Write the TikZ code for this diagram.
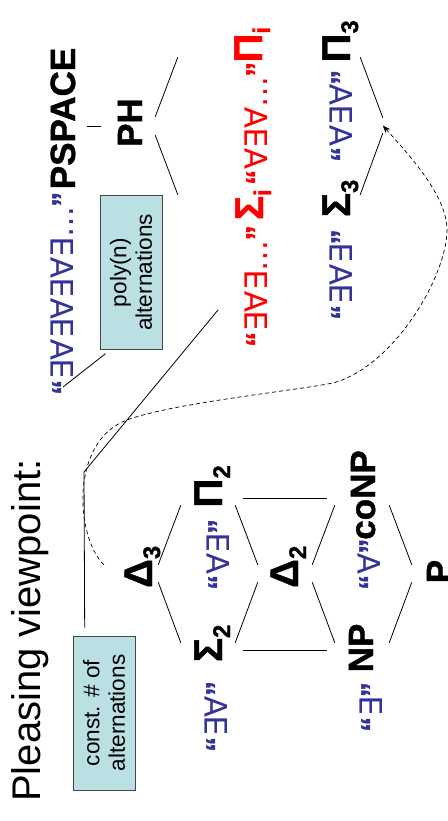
\documentclass[tikz,border=0pt]{standalone}
\usepackage{fontspec}
\setmainfont{Liberation Sans}
\newfontfamily\symfont{DejaVu Sans}
\newfontfamily\heavyfont{Liberation Sans}[BoldFeatures={FakeBold=1.2}]
\usetikzlibrary{arrows.meta}

\definecolor{qblue}{RGB}{51,51,153}
\definecolor{qred}{RGB}{255,0,0}
\definecolor{notefill}{RGB}{187,224,227}
\definecolor{noteline}{RGB}{70,70,70}

% label placed inside a fixed-size slot: #1 horizontal offset, #2 raise, #3 text
\newcommand\lbl[3]{\smash{\makebox[0pt]{\kern#1\kern#1\raisebox{#2}{#3}}}}
% subscript that takes no horizontal room
\newcommand\sub[1]{\rlap{\raisebox{-8pt}{\fontsize{24}{26}\selectfont #1}}}
% larger Greek class letter
\newcommand\gk[1]{{\fontsize{40}{44}\selectfont #1}}
% bold quotation marks
\newcommand\oq{{\heavyfont\bfseries\fontsize{30}{34}\selectfont “}}
\newcommand\cq{{\heavyfont\bfseries\fontsize{30}{34}\selectfont ”}}

\begin{document}
\begin{tikzpicture}[x=1pt, y=1pt, rotate=90, transform shape,
  slot/.style={rectangle, inner sep=0pt, minimum height=54pt, minimum width=#1},
  slot/.default=14pt,
  cls/.style={font=\heavyfont\fontsize{35}{40}\selectfont\bfseries},
  pre/.style={anchor=base west, inner sep=0pt, text=qblue,
              font=\symfont\fontsize{31}{36}\selectfont},
  conn/.style={draw=black, line width=0.8pt},
  notebox/.style={draw=noteline, fill=notefill, line width=0.9pt,
                  minimum width=154pt, minimum height=62pt, inner sep=2pt,
                  align=center, font=\fontsize{22.6}{25.5}\selectfont}]
\useasboundingbox (0,0) rectangle (821,-447);

% title
\node[anchor=base west, inner sep=0pt, font=\fontsize{40}{48}\selectfont]
  (title) at (19,-40) {Pleasing viewpoint:};

% lower lattice
\node[slot=17pt, cls] (D3) at (247.5,-131) {\lbl{0pt}{-21pt}{\gk{Δ}\sub{3}}};
\node[slot, cls] (S2) at (171,-208) {\lbl{0pt}{-14pt}{\gk{Σ}\sub{2}}};
\node[slot, cls] (P2) at (323,-208) {\lbl{5pt}{-14pt}{\gk{Π}\sub{2}}};
\node[slot=17pt, cls] (D2) at (247.5,-285) {\lbl{0pt}{-13pt}{\gk{Δ}\sub{2}}};
\node[slot, cls] (NP) at (171,-362) {\lbl{2pt}{-11pt}{NP}};
\node[slot, cls] (coNP) at (323,-362) {\lbl{3pt}{-13pt}{coNP}};
\node[slot=17pt, cls] (P) at (247.5,-439) {\lbl{2pt}{-12pt}{P}};

% upper part
\node[slot=18pt, cls] (PSPACE) at (695,-60) {\lbl{7.5pt}{-15pt}{PSPACE}};
\node[slot=18pt, cls] (PH) at (695,-128) {\lbl{3.5pt}{-14pt}{PH}};
\node[slot, cls, text=qred] (Si) at (619,-205) {\lbl{-6pt}{-58pt}{\gk{Σ}\sub{i}}};
\node[slot, cls, text=qred] (Pi) at (771,-205) {\lbl{2pt}{-57pt}{\gk{Π}\sub{i}}};
\node[slot, cls] (S3) at (619,-333) {\lbl{-3pt}{-17pt}{\gk{Σ}\sub{3}}};
\node[slot, cls] (P3) at (771,-333) {\lbl{2pt}{-17pt}{\gk{Π}\sub{3}}};
\node[slot=15pt] (D3new) at (695.5,-410) {};

% quantifier prefixes
\node[pre] (pspre) at (426,-73) {\oq∃∀∃∀∃∀∃…\cq};
\node[pre, text=qred] (sipre) at (474,-267) {\oq∃∀∃…\cq};
\node[pre, text=qred] (pipre) at (636,-267) {\oq∀∃∀…\cq};
\node[pre] (s3pre) at (501,-352) {\oq∃∀∃\cq};
\node[pre] (p3pre) at (659,-352) {\oq∀∃∀\cq};
\node[pre] (s2pre) at (69,-227) {\oq∃∀\cq};
\node[pre] (p2pre) at (231,-229) {\oq∀∃\cq};
\node[pre] (nppre) at (89,-382) {\oq∃\cq};
\node[pre] (conppre) at (231,-380) {\oq∀\cq};

% lattice edges
\draw[conn] (D3.south west) -- (S2.north east);
\draw[conn] (D3.south east) -- (P2.north west);
\draw[conn] (S2.south east) -- (D2.north west);
\draw[conn] (P2.south west) -- (D2.north east);
\draw[conn, shorten <=8pt, shorten >=8pt] (S2) -- (NP);
\draw[conn, shorten <=8pt, shorten >=8pt] (P2) -- (coNP);
\draw[conn] (D2.south west) -- (NP.north east);
\draw[conn] (D2.south east) -- (coNP.north west);
\draw[conn] (NP.south east) -- (P.north west);
\draw[conn] (coNP.south west) -- (P.north east);

\draw[conn] (PSPACE) -- (PH);
\draw[conn] (PH.south west) -- (Si.north east);
\draw[conn] (PH.south east) -- (Pi.north west);
\draw[conn] (S3.south east) -- (D3new.north west);
\draw[conn] (P3.south west) -- (D3new.north east);

% notes
\node[notebox] (constbox) at (108,-104) {const. \# of\\alternations};
\node[notebox] (polybox) at (548.5,-131) {poly(n)\\alternations};
\coordinate (constbend) at (349,-84);
\coordinate (constend) at (511,-218);
\coordinate (polyend) at (434,-63);
\draw[conn] (constbox.14.6) ++(8,0) -- (constbend) -- (constend);
\draw[conn, shorten <=6pt] (polybox.165.5) -- (polyend);

% Delta_3 moves up
\draw[line width=0.7pt, dash pattern=on 4pt off 3pt, -{Stealth[length=8pt,width=6pt]}]
  (D3.north east) .. controls (285,-75) and (380,-70) .. (401,-127)
  .. controls (418,-173) and (430,-293) .. (438,-333)
  .. controls (455,-395) and (546,-447) .. (591,-447)
  .. controls (625,-447) and (665,-410) .. (D3new.north);
\end{tikzpicture}
\end{document}
